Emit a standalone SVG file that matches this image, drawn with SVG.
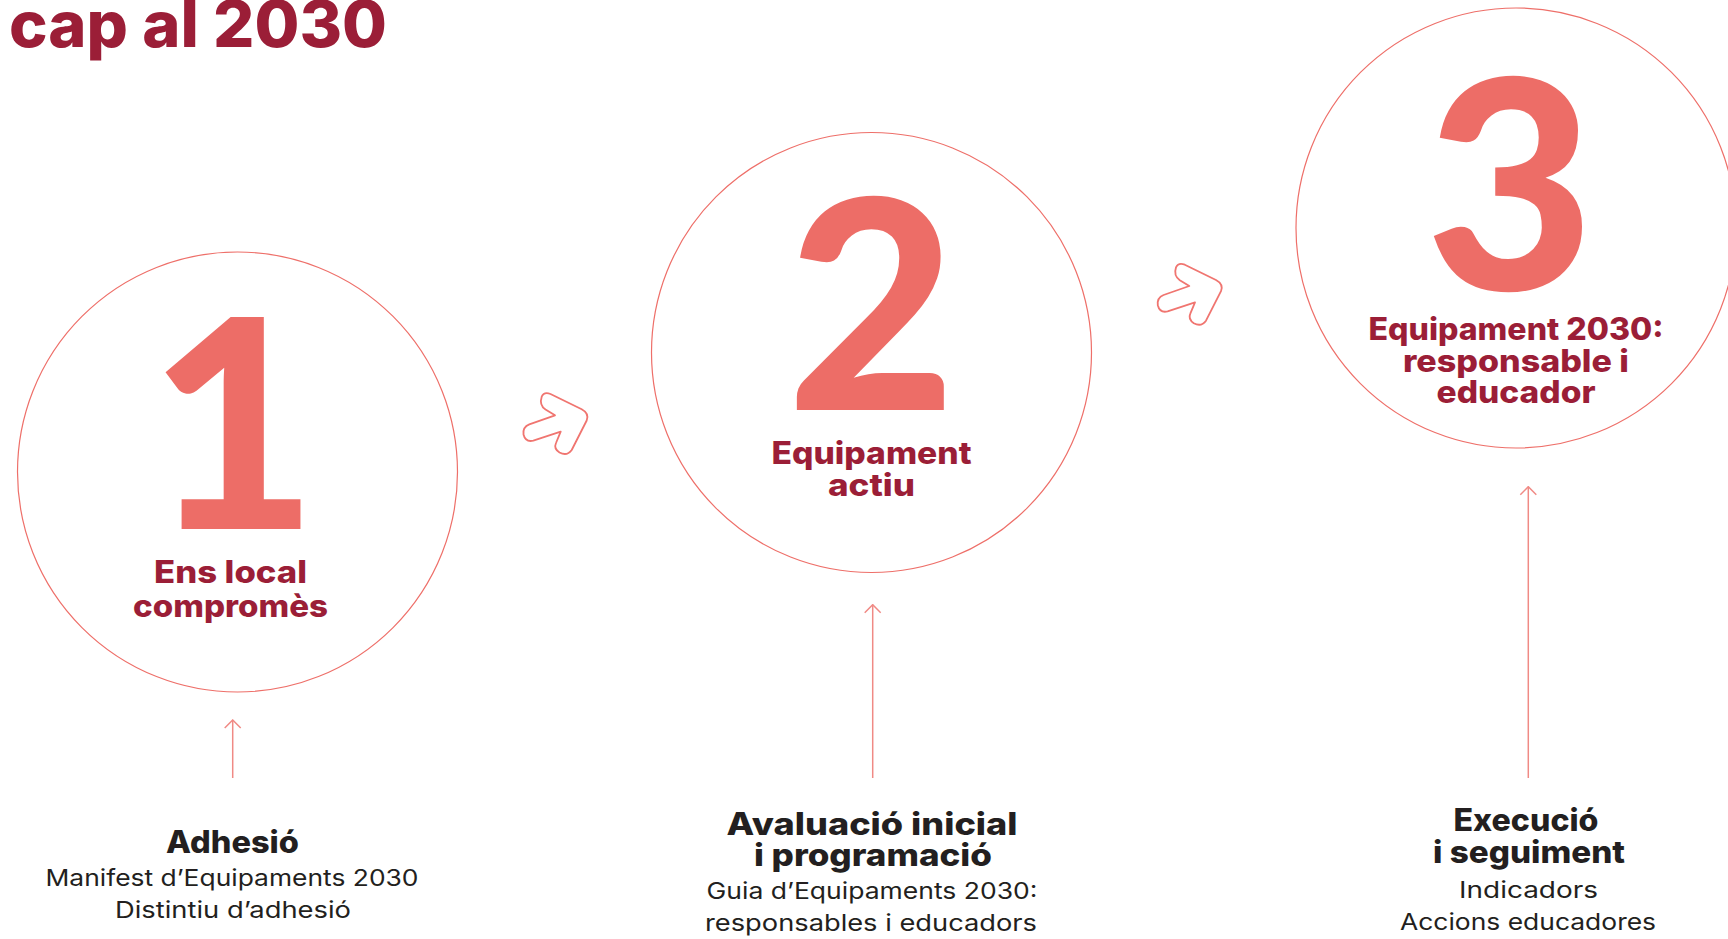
<svg xmlns="http://www.w3.org/2000/svg" width="1728" height="939" viewBox="0 0 1728 939">
<defs>
<style>
.title{font-family:Inter,"Noto Sans","Liberation Sans",sans-serif;font-weight:800;fill:#9b1e37}
.ring{fill:none;stroke:#ee6f69;stroke-width:1.2}
.digit{font-family:Lato,Inter,"Liberation Sans",sans-serif;font-weight:900;fill:#ed6d67;text-anchor:middle}
.lab{font-family:Inter,"Noto Sans","Liberation Sans",sans-serif;font-weight:800;fill:#9b1e37;font-size:31px;text-anchor:middle}
.hd{font-family:Inter,"Noto Sans","Liberation Sans",sans-serif;font-weight:800;fill:#231f20;font-size:31px;text-anchor:middle}
.sub{font-family:Inter,"Noto Sans","Liberation Sans",sans-serif;font-weight:400;fill:#231f20;font-size:23px;text-anchor:middle}
.conn{fill:none;stroke:#f08a85;stroke-width:1.5}
.bigarrow{fill:none;stroke:#f07570;stroke-width:1.8;stroke-linejoin:round}
</style>
<marker id="head" viewBox="0 0 10 18" refX="9" refY="9" markerWidth="10" markerHeight="18" markerUnits="userSpaceOnUse" orient="auto">
<path d="M1,1 L9,9 L1,17" fill="none" stroke="#f08a85" stroke-width="1.5"/>
</marker>
<path id="arr" d="M541.7,396.7 Q544,391.5 550.5,394 L581.7,409.3 Q589.5,413.5 586.7,420.5 L571.7,450 Q567,456.5 559.5,452.5 Q553.5,448.5 556,443 L560.7,431.7 L533.3,440.7 Q525.5,442.5 523.5,434.5 Q522.5,427 529.3,424.3 L555,415.3 L545.5,409.5 Q539,405 541.7,396.7 Z"/>
</defs>
<rect width="1728" height="939" fill="#ffffff"/>
<text class="title" x="9" y="47" font-size="64" textLength="378" lengthAdjust="spacingAndGlyphs">cap al 2030</text>

<g id="node1">
<circle class="ring" cx="237.5" cy="472" r="220"/>
<text class="digit" x="233" y="529" font-size="292">1</text>
<text class="lab" x="230.5" y="583" textLength="153" lengthAdjust="spacingAndGlyphs">Ens local</text>
<text class="lab" x="230.5" y="617" textLength="195" lengthAdjust="spacingAndGlyphs">compromès</text>
</g>
<g id="node2">
<circle class="ring" cx="871.5" cy="352.5" r="220"/>
<text class="digit" x="871.5" y="410" font-size="292">2</text>
<text class="lab" x="871.5" y="464" textLength="200" lengthAdjust="spacingAndGlyphs">Equipament</text>
<text class="lab" x="871.5" y="496" textLength="87" lengthAdjust="spacingAndGlyphs">actiu</text>
</g>
<g id="node3">
<circle class="ring" cx="1516" cy="228" r="220"/>
<text class="digit" x="1510" y="290" font-size="292">3</text>
<text class="lab" x="1516" y="340" textLength="295" lengthAdjust="spacingAndGlyphs">Equipament 2030:</text>
<text class="lab" x="1516" y="372" textLength="226" lengthAdjust="spacingAndGlyphs">responsable i</text>
<text class="lab" x="1516" y="403" textLength="159" lengthAdjust="spacingAndGlyphs">educador</text>
</g>

<g id="step1">
<text class="hd" x="232.5" y="853" textLength="133" lengthAdjust="spacingAndGlyphs">Adhesió</text>
<text class="sub" x="232" y="886" textLength="373" lengthAdjust="spacingAndGlyphs">Manifest d’Equipaments 2030</text>
<text class="sub" x="233" y="918" textLength="236" lengthAdjust="spacingAndGlyphs">Distintiu d’adhesió</text>
</g>
<g id="step2">
<text class="hd" x="872" y="835" textLength="291" lengthAdjust="spacingAndGlyphs">Avaluació inicial</text>
<text class="hd" x="873" y="866" textLength="238" lengthAdjust="spacingAndGlyphs">i programació</text>
<text class="sub" x="872" y="899" textLength="331" lengthAdjust="spacingAndGlyphs">Guia d’Equipaments 2030:</text>
<text class="sub" x="871" y="931" textLength="332" lengthAdjust="spacingAndGlyphs">responsables i educadors</text>
</g>
<g id="step3">
<text class="hd" x="1526" y="831" textLength="145" lengthAdjust="spacingAndGlyphs">Execució</text>
<text class="hd" x="1529" y="863" textLength="192" lengthAdjust="spacingAndGlyphs">i seguiment</text>
<text class="sub" x="1528.5" y="898" textLength="139" lengthAdjust="spacingAndGlyphs">Indicadors</text>
<text class="sub" x="1528" y="930" textLength="256" lengthAdjust="spacingAndGlyphs">Accions educadores</text>
</g>

<g id="connectors">
<use href="#arr" class="bigarrow"/>
<use href="#arr" class="bigarrow" transform="translate(634.3,-129.3)"/>
<line class="conn" x1="232.7" y1="778" x2="232.7" y2="720" marker-end="url(#head)"/>
<line class="conn" x1="872.7" y1="778" x2="872.7" y2="604.7" marker-end="url(#head)"/>
<line class="conn" x1="1528.3" y1="778" x2="1528.3" y2="486.7" marker-end="url(#head)"/>
</g>
</svg>
